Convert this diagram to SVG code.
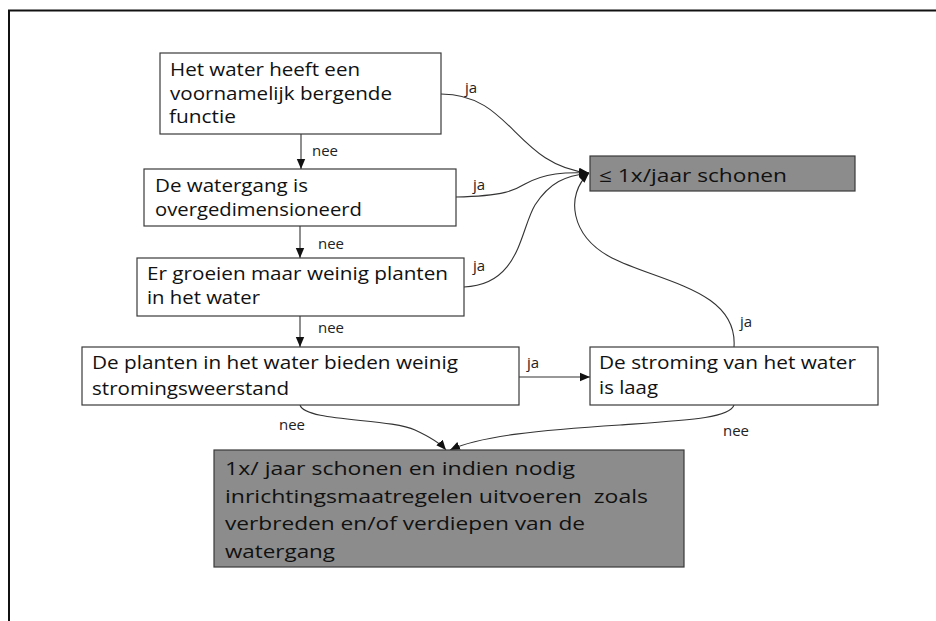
<svg xmlns="http://www.w3.org/2000/svg" width="936" height="621" viewBox="0 0 936 621">
<style>
.box{fill:#fff;stroke:#3a3a3a;stroke-width:1.2}
.gray{fill:#8c8c8c;stroke:#3a3a3a;stroke-width:1.2}
.t{font-family:"Open Sans","Noto Sans","DejaVu Sans",sans-serif;font-size:18px;fill:#111}
.lbl{font-family:"Open Sans","Noto Sans","DejaVu Sans",sans-serif;font-size:15px;fill:#222}
.c{fill:none;stroke:#333;stroke-width:1.1}
</style>
<defs>
<marker id="ah" markerUnits="userSpaceOnUse" markerWidth="12" markerHeight="10" refX="10" refY="5" orient="auto">
<path d="M0,0.8 L10,5 L0,9.2 Z" fill="#111"/>
</marker>
</defs>
<rect width="936" height="621" fill="#fff"/>
<path d="M9,621 V10.5 H936" fill="none" stroke="#111" stroke-width="2"/>

<g id="connectors">
<path class="c" d="M301,134 V169" marker-end="url(#ah)"/>
<path class="c" d="M300,226 V258" marker-end="url(#ah)"/>
<path class="c" d="M300,316 V347" marker-end="url(#ah)"/>
<path class="c" d="M519,377 H590" marker-end="url(#ah)"/>
<path class="c" d="M441,94 C512,94 515,165 589,173" marker-end="url(#ah)"/>
<path class="c" d="M456,197 C505,196 515,190 525,184 C545,173 565,172 589,173" marker-end="url(#ah)"/>
<path class="c" d="M464,287 C520,285 520,230 535,205 C550,182 565,176 589,173" marker-end="url(#ah)"/>
<path class="c" d="M734,347 C738,290 660,282 612,258 C570,236 565,195 589,173" marker-end="url(#ah)"/>
<path class="c" d="M300,405 C305,422 390,418 415,430 C430,437 440,443 446,450" marker-end="url(#ah)"/>
<path class="c" d="M734,405 C730,418 690,420 620,425 C540,430 480,436 450,450" marker-end="url(#ah)"/>
<text class="lbl" x="465" y="93">ja</text>
<text class="lbl" x="312" y="156">nee</text>
<text class="lbl" x="473" y="190">ja</text>
<text class="lbl" x="318" y="249">nee</text>
<text class="lbl" x="473" y="271">ja</text>
<text class="lbl" x="318" y="333">nee</text>
<text class="lbl" x="527" y="368">ja</text>
<text class="lbl" x="740" y="327">ja</text>
<text class="lbl" x="279" y="430">nee</text>
<text class="lbl" x="723" y="436">nee</text>
</g>

<g id="n1">
<rect class="box" x="160" y="53" width="281" height="81"/>
<text class="t" x="170" y="76" textLength="190" lengthAdjust="spacingAndGlyphs">Het water heeft een</text>
<text class="t" x="170" y="100" textLength="222" lengthAdjust="spacingAndGlyphs">voornamelijk bergende</text>
<text class="t" x="169" y="123" textLength="67" lengthAdjust="spacingAndGlyphs">functie</text>
</g>

<g id="n2">
<rect class="box" x="144" y="169" width="312" height="57"/>
<text class="t" x="155" y="192" textLength="153" lengthAdjust="spacingAndGlyphs">De watergang is</text>
<text class="t" x="155" y="216" textLength="207" lengthAdjust="spacingAndGlyphs">overgedimensioneerd</text>
</g>

<g id="n3">
<rect class="box" x="137" y="258" width="327" height="58"/>
<text class="t" x="147" y="280" textLength="301" lengthAdjust="spacingAndGlyphs">Er groeien maar weinig planten</text>
<text class="t" x="147" y="304" textLength="113" lengthAdjust="spacingAndGlyphs">in het water</text>
</g>

<g id="n4">
<rect class="box" x="82" y="347" width="437" height="58"/>
<text class="t" x="92" y="369" textLength="366" lengthAdjust="spacingAndGlyphs">De planten in het water bieden weinig</text>
<text class="t" x="92" y="395" textLength="197" lengthAdjust="spacingAndGlyphs">stromingsweerstand</text>
</g>

<g id="n5">
<rect class="box" x="590" y="347" width="288" height="58"/>
<text class="t" x="599" y="369" textLength="257" lengthAdjust="spacingAndGlyphs">De stroming van het water</text>
<text class="t" x="599" y="394" textLength="59" lengthAdjust="spacingAndGlyphs">is laag</text>
</g>

<g id="r1">
<rect class="gray" x="590" y="156" width="265" height="35"/>
<text class="t" x="599" y="182" textLength="188" lengthAdjust="spacingAndGlyphs">≤ 1x/jaar schonen</text>
</g>

<g id="r2">
<rect class="gray" x="214" y="450" width="470" height="117"/>
<text class="t" x="225" y="475" textLength="350" lengthAdjust="spacingAndGlyphs">1x/ jaar schonen en indien nodig</text>
<text class="t" x="225" y="503" textLength="423" lengthAdjust="spacingAndGlyphs" xml:space="preserve">inrichtingsmaatregelen uitvoeren  zoals</text>
<text class="t" x="225" y="530" textLength="360" lengthAdjust="spacingAndGlyphs">verbreden en/of verdiepen van de</text>
<text class="t" x="225" y="558" textLength="110" lengthAdjust="spacingAndGlyphs">watergang</text>
</g>
</svg>
